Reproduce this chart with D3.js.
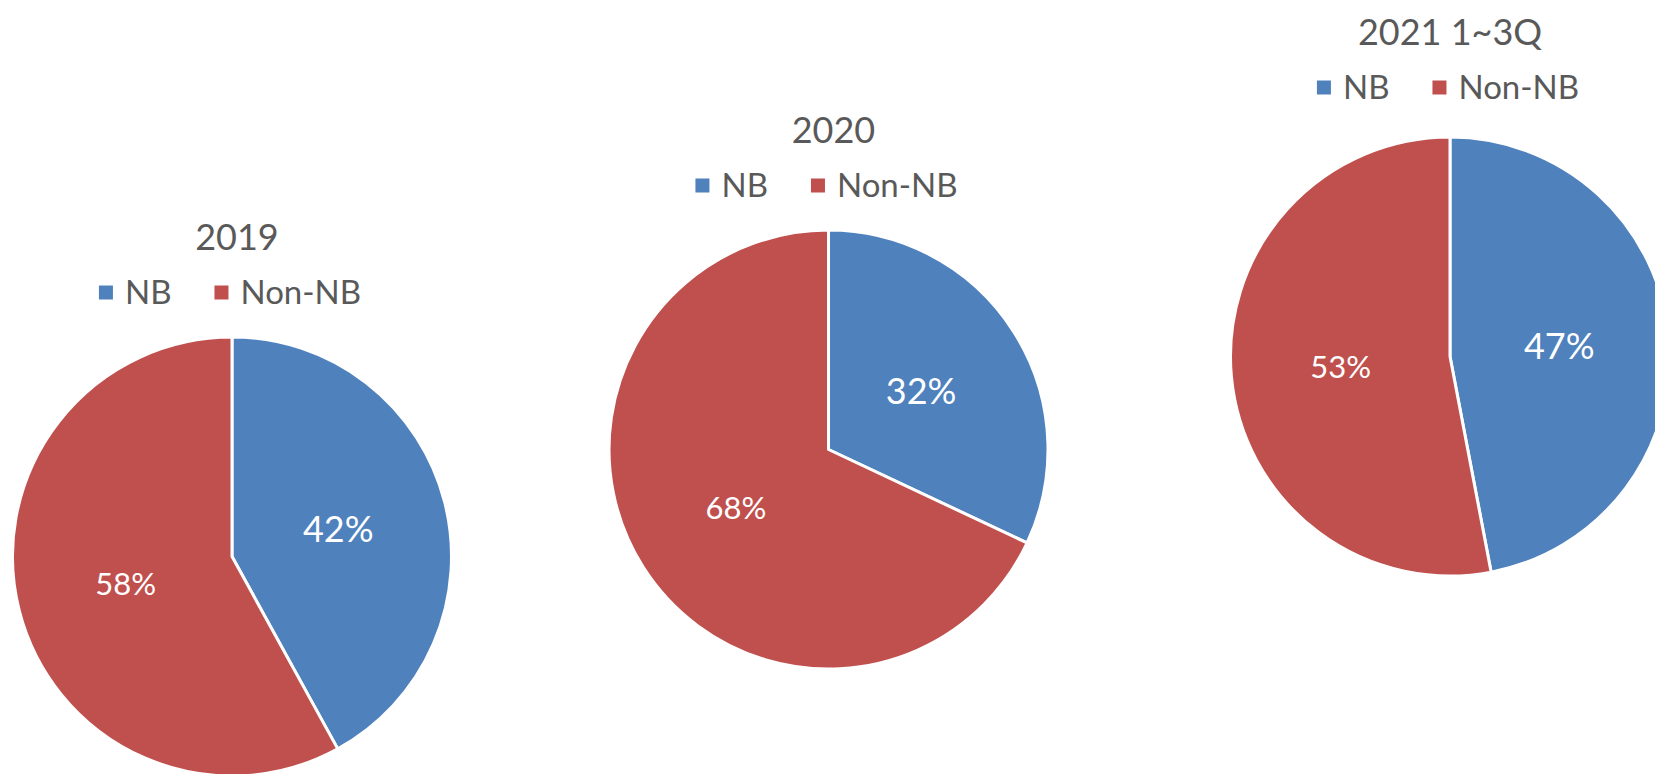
<!DOCTYPE html>
<html>
<head>
<meta charset="utf-8">
<script src="https://cdn.jsdelivr.net/npm/d3@7"></script>
<style>
  html, body { margin: 0; padding: 0; background: #fff; }
  svg { display: block; font-family: Lato, "Noto Sans", sans-serif; }
</style>
</head>
<body>
<svg id="chart" width="1655" height="774"></svg>
<script>
// data
const years = ["2019", "2020", "2021 1~3Q"];
const categories = ["NB", "Non-NB"];
const nbShare = [42, 32, 47];
const nonNbShare = [58, 68, 53];

const width = 1655,
    height = 774,
    radius = 219.5;

// where each pie sits on the page, and small nudges for its header
const centers = [[232, 556.5], [828.5, 449.5], [1450, 356.5]];
const titleDx = [5, 5, 0];
const headerDy = [0, 0, -5];

const color = d3.scaleOrdinal()
    .domain(categories)
    .range(["#4F81BD", "#C0504D"]);

const labelSize = d3.scaleOrdinal()
    .domain(categories)
    .range([36, 31]);

const svg = d3.select("#chart");

const pie = d3.pie()
    .sort(null)
    .value(d => d.value);

const arc = d3.arc()
    .innerRadius(0)
    .outerRadius(radius);

years.forEach(function(year, i) {
    const rows = [
        {cat: categories[0], value: nbShare[i]},
        {cat: categories[1], value: nonNbShare[i]}
    ];
    const [cx, cy] = centers[i];

    const g = svg.append("g")
        .attr("transform", `translate(${cx},${cy})`);

    const slices = pie(rows);

    g.selectAll("path.slice")
        .data(slices)
        .enter().append("path")
        .attr("class", "slice")
        .attr("d", arc)
        .attr("fill", d => color(d.data.cat))
        .attr("stroke", "#fff")
        .attr("stroke-width", 3)
        .attr("stroke-linejoin", "round");

    g.selectAll("text.pct")
        .data(slices)
        .enter().append("text")
        .attr("class", "pct")
        .attr("transform", d => `translate(${arc.centroid(d)})`)
        .attr("text-anchor", "middle")
        .attr("dy", "0.36em")
        .attr("fill", "#fff")
        .style("font-size", d => labelSize(d.data.cat) + "px")
        .text(d => d.data.value + "%");

    // title
    g.append("text")
        .attr("x", titleDx[i])
        .attr("y", -307 + headerDy[i])
        .attr("text-anchor", "middle")
        .attr("fill", "#595959")
        .style("font-size", "36px")
        .text(year);

    // legend, centred over the pie
    const leg = g.append("g").attr("class", "legend");
    const ly = -252 + headerDy[i] - 1;
    let x = 0;
    categories.forEach(function(cat, k) {
        leg.append("rect")
            .attr("x", x)
            .attr("y", ly - 18)
            .attr("width", 14)
            .attr("height", 14)
            .attr("fill", color(cat));
        x += 14 + 12;
        const t = leg.append("text")
            .attr("x", x)
            .attr("y", ly)
            .attr("fill", "#595959")
            .style("font-size", "33px")
            .text(cat);
        x += t.node().getComputedTextLength();
        if (k < categories.length - 1) x += 43;
    });
    leg.attr("transform", `translate(${-x / 2 - 2},0)`);
});
</script>
</body>
</html>
